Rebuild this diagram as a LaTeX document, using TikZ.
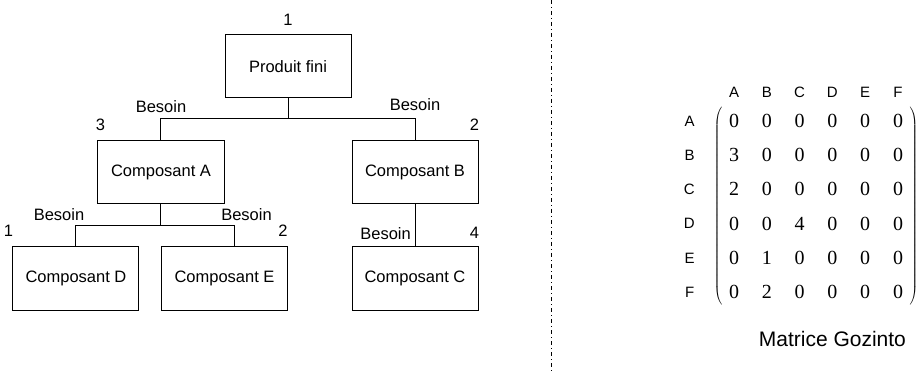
\documentclass[tikz,border=0pt]{standalone}
\usepackage{fontspec}
\setmainfont{Liberation Sans}
\newfontfamily\gzdigits{Liberation Serif}
\usepackage{tikz}
\usetikzlibrary{positioning,matrix}

\begin{document}
\begin{tikzpicture}[
compnode/.style={rectangle, draw=black, line width=1pt, minimum width=126pt, minimum height=63pt, font=\fontsize{16.5}{19}\selectfont},
qtylabel/.style={inner sep=0pt, font=\fontsize{16.5}{19}\selectfont},
idxlabel/.style={inner sep=0pt, minimum width=10pt, font=\fontsize{15}{17}\selectfont},
link/.style={line width=1pt},
]
\useasboundingbox (-288pt,-304.5pt) rectangle (629pt,66.5pt);

%Nodes
\node[compnode]      (pf)       at (0,0)                               {Produit fini};
\node[compnode]      (compA)    [below left=42pt and 0pt of pf]        {Composant A};
\node[compnode]      (compB)    [below right=42pt and 0pt of pf]       {Composant B};
\node[compnode]      (compD)    [below left=42pt and -42pt of compA]   {Composant D};
\node[compnode]      (compE)    [below=42pt of compA.south east]       {Composant E};
\node[compnode]      (compC)    [below=42pt of compB]                  {Composant C};

%Labels
\node[qtylabel]      (nPf)      [above=9pt of pf.north]                          {1};
\node[qtylabel]      (bA)       [above=28pt of compA.north]                      {Besoin};
\node[qtylabel]      (nA)       [above=10pt of compA.north west, xshift=3pt]     {3};
\node[qtylabel]      (bB)       [above=30pt of compB.north]                      {Besoin};
\node[qtylabel]      (nB)       [above=10pt of compB.north east, xshift=-4pt]    {2};
\node[qtylabel]      (bD)       [above=26pt of compD.north, xshift=-17pt]        {Besoin};
\node[qtylabel]      (nD)       [above=10pt of compD.north west, xshift=-4pt]    {1};
\node[qtylabel]      (bE)       [above=26pt of compE.north, xshift=22pt]         {Besoin};
\node[qtylabel]      (nE)       [above=10pt of compE.north east, xshift=-5pt]    {2};
\node[qtylabel]      (bC)       [above left=7pt and 4pt of compC.north]          {Besoin};
\node[qtylabel]      (nC)       [above=8pt of compC.north east, xshift=-4pt]     {4};

%Lines
\draw[link] (pf.south) -- ++(0,-20pt) -| (compA.north);
\draw[link] (pf.south) -- ++(0,-20pt) -| (compB.north);
\draw[link] (compA.south) -- ++(0,-21pt) -| (compD.north);
\draw[link] (compA.south) -- ++(0,-21pt) -| ([xshift=10pt]compE.north);
\draw[link] (compB) -- (compC);

%Divider
\coordinate (divtop) at (263pt,66.5pt);
\coordinate (divbot) at (263pt,-304.5pt);
\draw[line width=0.8pt, dash pattern=on 4pt off 3pt on 1pt off 3pt] (divtop) -- (divbot);

%Matrix
\matrix[matrix of nodes, left delimiter=(, right delimiter=),
  nodes={inner sep=2pt, minimum height=20pt, font=\gzdigits\fontsize{20}{22}\selectfont},
  column sep=18.8pt, row sep=14.2pt] (gz) at (528pt,-140pt) {
0 & 0 & 0 & 0 & 0 & 0 \\
3 & 0 & 0 & 0 & 0 & 0 \\
2 & 0 & 0 & 0 & 0 & 0 \\
0 & 0 & 4 & 0 & 0 & 0 \\
0 & 1 & 0 & 0 & 0 & 0 \\
0 & 2 & 0 & 0 & 0 & 0 \\
};
\node[idxlabel]      (cA)       [above=13pt of gz-1-1]      {A};
\node[idxlabel]      (cB)       [above=13pt of gz-1-2]      {B};
\node[idxlabel]      (cC)       [above=13pt of gz-1-3]      {C};
\node[idxlabel]      (cD)       [above=13pt of gz-1-4]      {D};
\node[idxlabel]      (cE)       [above=13pt of gz-1-5]      {E};
\node[idxlabel]      (cF)       [above=13pt of gz-1-6]      {F};
\node[idxlabel]      (rA)       [left=32pt of gz-1-1]       {A};
\node[idxlabel]      (rB)       [left=32pt of gz-2-1]       {B};
\node[idxlabel]      (rC)       [left=32pt of gz-3-1]       {C};
\node[idxlabel]      (rD)       [left=32pt of gz-4-1]       {D};
\node[idxlabel]      (rE)       [left=32pt of gz-5-1]       {E};
\node[idxlabel]      (rF)       [left=32pt of gz-6-1]       {F};
\node[inner sep=0pt, font=\fontsize{21}{25}\selectfont] (gztitle) [below=29pt of gz-6-4] {Matrice Gozinto};
\end{tikzpicture}
\end{document}
